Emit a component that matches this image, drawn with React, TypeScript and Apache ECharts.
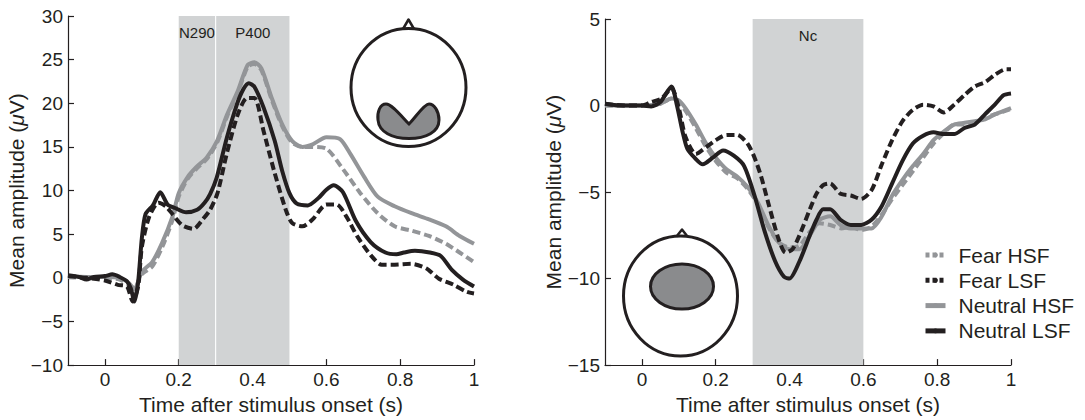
import React, { useEffect, useRef } from "react";
import * as echarts from "echarts";

// ---------- data ----------
type Pt = [number, number];

const seriesNames = ["Fear HSF", "Fear LSF", "Neutral HSF", "Neutral LSF"];

const leftNeutralHSF: Pt[] = [
  [-0.1, 0.2], [-0.05, 0.1], [0, 0.1], [0.04, 0], [0.065, -0.6], [0.08, -1.3], [0.1, 0.7],
  [0.128, 1.8], [0.155, 4], [0.183, 7], [0.2, 9.7], [0.225, 11.6], [0.248, 12.7], [0.276, 13.8],
  [0.304, 15.7], [0.331, 18.7], [0.36, 21.4], [0.387, 24.4], [0.405, 24.7], [0.424, 24],
  [0.452, 20.6], [0.48, 17.6], [0.507, 15.7], [0.535, 15], [0.563, 15.3], [0.6, 16.1],
  [0.637, 15.9], [0.665, 14.2], [0.702, 11.6], [0.739, 9.3], [0.785, 8.2], [0.831, 7.4],
  [0.878, 6.7], [0.924, 5.9], [0.961, 4.8], [1.0, 3.9],
];
const leftFearHSF: Pt[] = [
  [-0.1, 0.1], [-0.05, 0], [0, 0], [0.04, -0.2], [0.065, -0.8], [0.08, -1.2], [0.1, 0.4],
  [0.128, 1.3], [0.155, 3.5], [0.183, 6.6], [0.2, 9.3], [0.225, 11.4], [0.248, 12.5],
  [0.276, 13.6], [0.304, 15.5], [0.331, 18.5], [0.36, 21.2], [0.387, 24.2], [0.405, 24.5],
  [0.424, 23.8], [0.452, 20.4], [0.48, 17.4], [0.507, 15.5], [0.535, 15], [0.56, 15],
  [0.6, 14.8], [0.646, 12.4], [0.692, 9.7], [0.739, 7.4], [0.785, 5.9], [0.831, 5.4],
  [0.878, 4.8], [0.924, 3.9], [0.961, 2.9], [1.0, 1.8],
];
const leftFearLSF: Pt[] = [
  [-0.1, 0.2], [-0.05, 0], [0, -0.3], [0.035, -0.8], [0.06, -1], [0.075, -2.7], [0.09, -1],
  [0.1, 3.5], [0.12, 7], [0.145, 8.6], [0.165, 8.2], [0.183, 7.3], [0.21, 6], [0.24, 5.6],
  [0.265, 6.7], [0.285, 7.8], [0.305, 9.7], [0.33, 14.2], [0.36, 18.7], [0.385, 20.6],
  [0.405, 20.6], [0.43, 16.8], [0.46, 12], [0.49, 7.8], [0.507, 6.3], [0.535, 5.9],
  [0.563, 6.7], [0.6, 8.4], [0.628, 8.4], [0.656, 6.9], [0.683, 4.8], [0.72, 2.6],
  [0.75, 1.5], [0.785, 1.5], [0.83, 1.6], [0.87, 1.1], [0.905, -0.1], [0.945, -0.8],
  [0.98, -1.6], [1.0, -1.8],
];
const leftNeutralLSF: Pt[] = [
  [-0.1, 0.3], [-0.07, 0.1], [-0.05, -0.2], [-0.03, 0.1], [0, 0.2], [0.02, 0.4], [0.04, 0.1],
  [0.06, -0.4], [0.07, -1.2], [0.08, -2.7], [0.09, -0.5], [0.1, 4.5], [0.11, 7.3], [0.13, 8.3],
  [0.15, 9.8], [0.17, 8.4], [0.19, 8], [0.22, 7.5], [0.25, 7.8], [0.27, 8.6], [0.285, 9.6],
  [0.303, 11.5], [0.33, 16], [0.357, 19.8], [0.375, 21.6], [0.39, 22.3], [0.405, 21.9],
  [0.43, 19.5], [0.46, 15.7], [0.48, 12.3], [0.5, 9.7], [0.52, 8.5], [0.55, 8.3], [0.58, 9.2],
  [0.6, 10.1], [0.62, 10.6], [0.645, 9.8], [0.68, 6.5], [0.72, 4.1], [0.76, 2.9], [0.79, 2.7],
  [0.81, 2.9], [0.84, 3.1], [0.88, 2.9], [0.91, 2.5], [0.94, 0.9], [0.97, -0.2], [1.0, -1],
];

const rightNeutralHSF: Pt[] = [
  [-0.1, 0], [-0.05, 0], [0, 0], [0.05, 0.1], [0.08, 0.4], [0.1, 0.3], [0.118, -0.15],
  [0.146, -1.1], [0.174, -2.2], [0.2, -3], [0.23, -3.7], [0.258, -4.1], [0.286, -4.7],
  [0.314, -5.6], [0.342, -6.9], [0.37, -7.9], [0.4, -8.3], [0.427, -8.3], [0.455, -7.5],
  [0.482, -6.6], [0.51, -6.4], [0.538, -6.9], [0.566, -7.1], [0.594, -7.1], [0.622, -7.1],
  [0.65, -6.4], [0.678, -5.2], [0.706, -4.3], [0.734, -3.5], [0.762, -2.8], [0.79, -2],
  [0.818, -1.5], [0.846, -1.1], [0.874, -1], [0.902, -0.9], [0.93, -0.8], [0.958, -0.5],
  [1.0, -0.15],
];
const rightFearHSF: Pt[] = [
  [-0.1, 0], [0, 0], [0.05, 0.1], [0.08, 0.4], [0.1, 0.2], [0.118, -0.3], [0.146, -1.3],
  [0.174, -2.4], [0.2, -3.2], [0.23, -3.9], [0.258, -4.2], [0.286, -4.8], [0.314, -5.7],
  [0.342, -7], [0.37, -7.9], [0.4, -8.2], [0.427, -8.1], [0.455, -7.3], [0.48, -6.8],
  [0.51, -6.9], [0.54, -7.1], [0.566, -7], [0.594, -7.2], [0.622, -7], [0.65, -6.3],
  [0.678, -5.4], [0.706, -4.6], [0.734, -3.8], [0.762, -3], [0.79, -2.2], [0.818, -1.6],
  [0.846, -1.1], [0.874, -1.1], [0.902, -1], [0.93, -0.7], [0.958, -0.5], [1.0, -0.2],
];
const rightFearLSF: Pt[] = [
  [-0.1, 0.1], [-0.05, 0], [0, 0], [0.025, 0.2], [0.053, 0.4], [0.08, 1.0], [0.1, -0.15],
  [0.118, -1.8], [0.146, -2.8], [0.174, -2.4], [0.2, -2.0], [0.23, -1.7], [0.258, -1.7],
  [0.286, -2.2], [0.305, -3], [0.323, -4.1], [0.342, -5.6], [0.37, -7.7], [0.389, -8.5],
  [0.408, -8.3], [0.427, -7.5], [0.455, -6], [0.473, -5.1], [0.491, -4.6], [0.51, -4.5],
  [0.538, -5.1], [0.566, -5.2], [0.594, -5.4], [0.622, -4.9], [0.65, -3.4], [0.678, -2.0],
  [0.706, -0.9], [0.734, -0.25], [0.762, 0.05], [0.79, -0.05], [0.818, -0.4], [0.846, 0.05],
  [0.874, 0.6], [0.902, 1.1], [0.93, 1.35], [0.958, 1.8], [0.986, 2.1], [1.0, 2.1],
];
const rightNeutralLSF: Pt[] = [
  [-0.1, 0.1], [-0.06, 0], [0, 0], [0.025, -0.05], [0.05, 0.2], [0.08, 1.1], [0.095, 0],
  [0.11, -1.5], [0.123, -2.5], [0.142, -3], [0.165, -3.4], [0.193, -3], [0.22, -2.6],
  [0.249, -2.9], [0.277, -3.5], [0.305, -5.2], [0.333, -7.3], [0.361, -9], [0.385, -9.9],
  [0.4, -10], [0.427, -9], [0.455, -7.5], [0.473, -6.6], [0.491, -6], [0.51, -6],
  [0.538, -6.6], [0.566, -6.9], [0.594, -6.9], [0.622, -6.6], [0.65, -5.8], [0.678, -4.5],
  [0.706, -3.2], [0.734, -2.2], [0.762, -1.75], [0.79, -1.55], [0.818, -1.65], [0.846, -1.65],
  [0.874, -1.3], [0.902, -1.1], [0.93, -0.5], [0.958, 0.1], [0.98, 0.6], [1.0, 0.7],
];

const xTickValues = [0, 0.2, 0.4, 0.6, 0.8, 1];
const leftRegions = [
  { name: "N290", from: 0.2, to: 0.2985 },
  { name: "P400", from: 0.3015, to: 0.5 },
];
const rightRegions = [{ name: "Nc", from: 0.3, to: 0.6 }];

// ---------- styles ----------
const INK = "#231f20";
const GRAY = "#939598";
const SHADE = "#d1d3d4";
const FONT = "'Liberation Sans', Arial, Helvetica, sans-serif";

const brainPath =
  "M386,104 C380,104 377,112 378,120 C379,132 392,138.5 409,138.5 C426,138.5 439,132 439,120 " +
  "C439,111 434,104 429,104 C424,104 416,117 409,124 C402,117 392,104 386,104 Z";
let registered = false;
function registerShapes() {
  if (registered) return;
  echarts.graphic.registerShape("brainV", echarts.graphic.extendPath(brainPath, {}));
  registered = true;
}

const minus = (v: number) => (v < 0 ? "\u2212" + Math.abs(v) : String(v));

function makeX(gridIndex: number) {
  return {
    type: "value",
    gridIndex,
    min: -0.1,
    max: 1,
    interval: 0.1,
    name: "Time after stimulus onset (s)",
    nameLocation: "middle",
    nameGap: 24,
    nameTextStyle: { fontSize: 21, color: INK, fontFamily: FONT },
    axisLine: { show: true, onZero: false, lineStyle: { color: INK, width: 1.2 } },
    axisTick: { show: true, inside: true, length: 6, customValues: xTickValues, lineStyle: { color: INK, width: 1.2 } },
    axisLabel: { customValues: xTickValues, fontSize: 19, color: INK, fontFamily: FONT, margin: 5, formatter: (v: number) => String(v) },
    splitLine: { show: false },
  };
}

function makeY(gridIndex: number, min: number, max: number, gap: number) {
  return {
    type: "value",
    gridIndex,
    min,
    max,
    interval: 5,
    name: "Mean amplitude ({it|\u03bc}V)",
    nameLocation: "middle",
    nameGap: gap,
    nameRotate: 90,
    nameTextStyle: {
      fontSize: 21, color: INK, fontFamily: FONT,
      rich: { it: { fontSize: 21, fontStyle: "italic", color: INK, fontFamily: FONT } },
    },
    axisLine: { show: true, onZero: false, lineStyle: { color: INK, width: 1.2 } },
    axisTick: { show: true, inside: true, length: 6, lineStyle: { color: INK, width: 1.2 } },
    axisLabel: { fontSize: 19, color: INK, fontFamily: FONT, margin: 5, formatter: minus },
    splitLine: { show: false },
  };
}

const dash = [8, 4];

function lineSeries(name: string, data: Pt[], idx: number, color: string, dashed: boolean, z: number) {
  return {
    type: "line",
    name,
    data,
    xAxisIndex: idx,
    yAxisIndex: idx,
    showSymbol: false,
    symbol: "none",
    smooth: 0.25,
    z,
    lineStyle: { color, width: 4, type: dashed ? dash : "solid", cap: "butt" },
    itemStyle: { color },
  };
}

function regionSeries(idx: number, regions: { name: string; from: number; to: number }[]) {
  return {
    type: "line",
    name: "regions" + idx,
    data: [],
    xAxisIndex: idx,
    yAxisIndex: idx,
    z: 1,
    silent: true,
    markArea: {
      silent: true,
      itemStyle: { color: SHADE },
      label: { show: true, position: "insideTop", distance: 9, fontSize: 15, color: INK, fontFamily: FONT },
      data: regions.map((r) => [{ name: r.name, xAxis: r.from }, { xAxis: r.to }]),
    },
  };
}

export default function App() {
  const ref = useRef<HTMLDivElement>(null);
  useEffect(() => {
    if (!ref.current) return;
    registerShapes();
    const chart = echarts.init(ref.current, null, { renderer: "svg" });
    const option: any = {
      animation: false,
      backgroundColor: "#ffffff",
      grid: [
        { left: 68, top: 16, width: 406, height: 355 },
        { left: 605, top: 19, width: 406, height: 354 },
      ],
      xAxis: [makeX(0), makeX(1)],
      yAxis: [makeY(0, -10, 30, 35), makeY(1, -15, 5, 29)],
      legend: {
        orient: "vertical",
        left: 918,
        top: 239.5,
        itemWidth: 20,
        itemHeight: 6,
        itemGap: 4.3,
        selectedMode: false,
        textStyle: { fontSize: 21, color: INK, fontFamily: FONT, lineHeight: 21, padding: [0, 0, 0, 8] },
        data: [
          { name: "Fear HSF", lineStyle: { color: GRAY, width: 5, type: [4, 3] } },
          { name: "Fear LSF", lineStyle: { color: INK, width: 5, type: [4, 3] } },
          { name: "Neutral HSF", lineStyle: { color: GRAY, width: 5, type: "solid" } },
          { name: "Neutral LSF", lineStyle: { color: INK, width: 5, type: "solid" } },
        ],
      },
      series: [
        regionSeries(0, leftRegions),
        regionSeries(1, rightRegions),
        lineSeries(seriesNames[2], leftNeutralHSF, 0, GRAY, false, 2),
        lineSeries(seriesNames[0], leftFearHSF, 0, GRAY, true, 3),
        lineSeries(seriesNames[1], leftFearLSF, 0, INK, true, 4),
        lineSeries(seriesNames[3], leftNeutralLSF, 0, INK, false, 5),
        lineSeries(seriesNames[2], rightNeutralHSF, 1, GRAY, false, 2),
        lineSeries(seriesNames[0], rightFearHSF, 1, GRAY, true, 3),
        lineSeries(seriesNames[1], rightFearLSF, 1, INK, true, 4),
        lineSeries(seriesNames[3], rightNeutralLSF, 1, INK, false, 5),
      ],
      graphic: [
        // left head
        { type: "ellipse", shape: { cx: 408.5, cy: 87.5, rx: 57.5, ry: 59 }, style: { fill: "none", stroke: INK, lineWidth: 3 }, z: 10 },
        { type: "polyline", shape: { points: [[403, 29], [408.5, 19.5], [414, 29]] }, style: { fill: "none", stroke: INK, lineWidth: 2.5, lineJoin: "round" }, z: 10 },
        { type: "brainV", x: 0, y: 0, shape: {}, style: { fill: "#8a8b8d", stroke: INK, lineWidth: 3 }, z: 11 },
        // right head
        { type: "ellipse", shape: { cx: 680.5, cy: 296, rx: 57, ry: 60 }, style: { fill: "none", stroke: INK, lineWidth: 3 }, z: 10 },
        { type: "polyline", shape: { points: [[676.5, 236.5], [682, 229.5], [687.5, 236.5]] }, style: { fill: "none", stroke: INK, lineWidth: 2.5, lineJoin: "round" }, z: 10 },
        { type: "ellipse", shape: { cx: 682, cy: 286.5, rx: 31.5, ry: 22.5 }, style: { fill: "#8a8b8d", stroke: INK, lineWidth: 3 }, z: 11 },
      ],
    };
    chart.setOption(option);
    return () => chart.dispose();
  }, []);
  return (
    <div
      ref={ref}
      style={{ position: "fixed", left: 0, top: 0, width: 1085, height: 420, background: "#fff" }}
    />
  );
}
